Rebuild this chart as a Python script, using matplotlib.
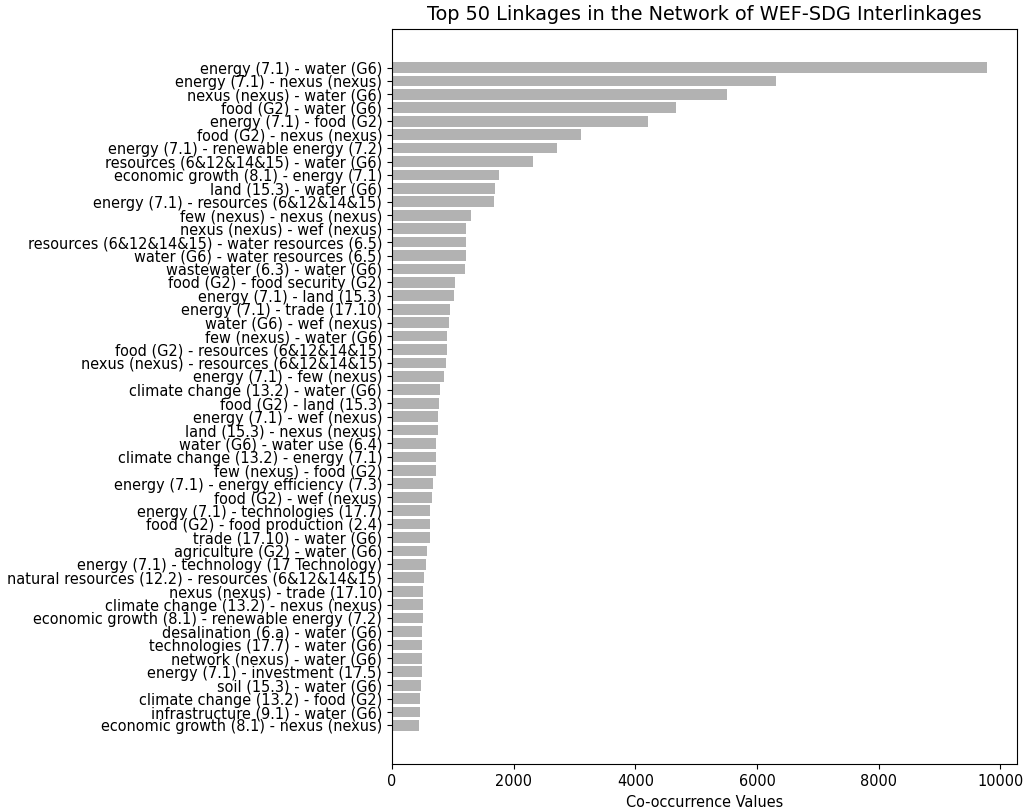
import matplotlib
matplotlib.use("Agg")
import matplotlib.pyplot as plt

# Linkage pairs, strongest first
linkages = [
    "energy (7.1) - water (G6)",
    "energy (7.1) - nexus (nexus)",
    "nexus (nexus) - water (G6)",
    "food (G2) - water (G6)",
    "energy (7.1) - food (G2)",
    "food (G2) - nexus (nexus)",
    "energy (7.1) - renewable energy (7.2)",
    "resources (6&12&14&15) - water (G6)",
    "economic growth (8.1) - energy (7.1)",
    "land (15.3) - water (G6)",
    "energy (7.1) - resources (6&12&14&15)",
    "few (nexus) - nexus (nexus)",
    "nexus (nexus) - wef (nexus)",
    "resources (6&12&14&15) - water resources (6.5)",
    "water (G6) - water resources (6.5)",
    "wastewater (6.3) - water (G6)",
    "food (G2) - food security (G2)",
    "energy (7.1) - land (15.3)",
    "energy (7.1) - trade (17.10)",
    "water (G6) - wef (nexus)",
    "few (nexus) - water (G6)",
    "food (G2) - resources (6&12&14&15)",
    "nexus (nexus) - resources (6&12&14&15)",
    "energy (7.1) - few (nexus)",
    "climate change (13.2) - water (G6)",
    "food (G2) - land (15.3)",
    "energy (7.1) - wef (nexus)",
    "land (15.3) - nexus (nexus)",
    "water (G6) - water use (6.4)",
    "climate change (13.2) - energy (7.1)",
    "few (nexus) - food (G2)",
    "energy (7.1) - energy efficiency (7.3)",
    "food (G2) - wef (nexus)",
    "energy (7.1) - technologies (17.7)",
    "food (G2) - food production (2.4)",
    "trade (17.10) - water (G6)",
    "agriculture (G2) - water (G6)",
    "energy (7.1) - technology (17 Technology)",
    "natural resources (12.2) - resources (6&12&14&15)",
    "nexus (nexus) - trade (17.10)",
    "climate change (13.2) - nexus (nexus)",
    "economic growth (8.1) - renewable energy (7.2)",
    "desalination (6.a) - water (G6)",
    "technologies (17.7) - water (G6)",
    "network (nexus) - water (G6)",
    "energy (7.1) - investment (17.5)",
    "soil (15.3) - water (G6)",
    "climate change (13.2) - food (G2)",
    "infrastructure (9.1) - water (G6)",
    "economic growth (8.1) - nexus (nexus)",
]

cooccurrence = [
    9780, 6315, 5500, 4665, 4215, 3110, 2715, 2320, 1760, 1700,
    1675, 1305, 1213, 1213, 1213, 1197, 1038, 1011, 951, 940,
    902, 896, 885, 852, 787, 765, 749, 749, 727, 727,
    721, 678, 650, 628, 628, 617, 574, 560, 530, 514,
    508, 503, 497, 492, 492, 492, 481, 464, 454, 443,
]

fig = plt.figure(figsize=(10.29, 8.09), dpi=100)
ax = fig.add_axes([0.381, 0.0553, 0.607, 0.9092])

ax.barh(linkages, cooccurrence, color="gray", alpha=0.6)
ax.invert_yaxis()

ax.set_xlabel("Co-occurrence Values", fontsize=10.45)
ax.set_title("Top 50 Linkages in the Network of WEF-SDG Interlinkages", fontsize=13.9)
ax.tick_params(axis="both", labelsize=10.45)

fig.savefig("out.png", dpi=100)
